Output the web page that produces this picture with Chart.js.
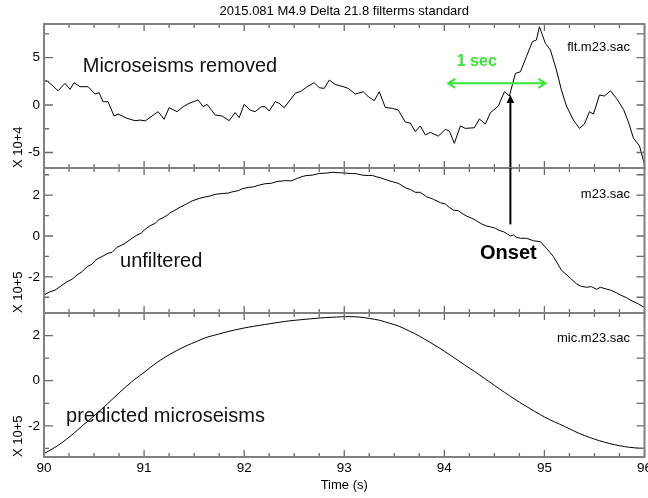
<!DOCTYPE html>
<html><head><meta charset="utf-8">
<script src="https://cdn.jsdelivr.net/npm/chart.js@4/dist/chart.umd.min.js"></script>
<style>
html,body{margin:0;padding:0;background:#fff;}
#wrap{position:relative;width:648px;height:498px;}
#wrap canvas{position:absolute;left:0;top:0;}
</style></head><body>
<div id="wrap">
<canvas id="c1" width="648" height="498"></canvas>
<canvas id="c2" width="648" height="498"></canvas>
<canvas id="c3" width="648" height="498"></canvas>
</div>
<script>
// ---------------- data ----------------
const TITLE = '2015.081 M4.9 Delta 21.8 filterms standard';
const X_LABELS = [90, 91, 92, 93, 94, 95, 96];

// flt.m23.sac (x 10^4)
const T_FLT = [90.00,90.02,90.08,90.14,90.21,90.26,90.30,90.36,90.44,90.51,90.55,90.59,90.64,90.70,90.74,90.83,90.91,90.96,91.01,91.14,
91.20,91.25,91.33,91.39,91.45,91.54,91.59,91.63,91.71,91.78,91.85,91.91,91.95,92.00,92.06,92.11,92.17,92.21,92.25,92.31,
92.35,92.40,92.46,92.51,92.57,92.63,92.70,92.75,92.80,92.85,92.91,92.99,93.04,93.11,93.19,93.24,93.30,93.35,93.41,93.48,
93.54,93.61,93.66,93.71,93.76,93.81,93.86,93.94,94.01,94.05,94.10,94.16,94.21,94.30,94.35,94.41,94.46,94.54,94.60,94.65,
94.71,94.76,94.82,94.88,94.92,94.95,95.01,95.06,95.12,95.17,95.22,95.29,95.35,95.40,95.45,95.49,95.55,95.60,95.66,95.72,
95.79,95.84,95.89,95.95,96.00];
const V_FLT = [2.30,2.60,2.10,1.50,2.28,1.65,2.35,1.93,1.93,1.16,1.30,0.35,0.35,-1.16,-0.95,-1.40,-1.65,-1.58,-1.68,-0.70,
-1.50,-0.28,-0.70,-0.18,0.18,0.53,-0.18,0.07,-1.05,-1.16,-1.65,-0.80,-1.33,0.07,-0.53,-0.70,-0.18,-0.18,-0.63,0.35,
0.18,-0.28,0.53,1.23,1.47,1.93,2.35,1.82,1.75,2.63,2.17,1.93,1.75,1.16,1.40,0.88,0.46,1.40,-0.25,-0.35,
-0.53,-1.80,-1.90,-2.80,-2.20,-3.15,-2.88,-3.27,-2.56,-2.74,-4.03,-2.21,-2.46,-2.39,-1.47,-2.00,-0.81,-0.10,1.40,0.95,
3.33,3.50,5.09,6.67,6.84,8.24,6.49,5.79,3.68,1.58,-0.10,-1.58,-2.46,-2.00,-0.70,-0.95,1.05,0.95,1.50,0.70,
-0.45,-1.80,-3.50,-4.30,-6.30];

// m23.sac (x 10^5)
const T_RAW = [90.00,90.06,90.11,90.16,90.23,90.28,90.33,90.38,90.43,90.48,90.51,90.55,90.59,90.64,90.68,90.73,90.80,90.86,90.92,90.97,
91.01,91.06,91.11,91.15,91.18,91.23,91.26,91.30,91.36,91.42,91.48,91.55,91.60,91.66,91.71,91.78,91.84,91.88,91.94,91.98,
92.04,92.09,92.14,92.21,92.27,92.33,92.41,92.47,92.53,92.58,92.62,92.68,92.75,92.82,92.88,92.94,92.99,93.06,93.12,93.18,
93.24,93.28,93.32,93.36,93.42,93.48,93.54,93.62,93.66,93.71,93.76,93.82,93.89,93.96,94.01,94.05,94.09,94.14,94.18,94.22,
94.27,94.32,94.37,94.42,94.46,94.51,94.55,94.59,94.63,94.66,94.69,94.72,94.76,94.82,94.89,94.96,95.02,95.09,95.17,95.26,
95.32,95.36,95.42,95.47,95.52,95.56,95.62,95.66,95.72,95.76,95.82,95.86,95.94,96.00];
const V_RAW = [-2.89,-2.73,-2.65,-2.48,-2.24,-2.12,-1.91,-1.75,-1.50,-1.38,-1.20,-1.08,-0.98,-0.84,-0.80,-0.55,-0.39,-0.18,0.02,0.14,
0.33,0.50,0.62,0.81,0.87,1.01,1.14,1.24,1.41,1.56,1.72,1.84,1.90,1.96,2.04,2.08,2.10,2.16,2.22,2.31,
2.38,2.40,2.48,2.56,2.58,2.67,2.71,2.70,2.82,2.91,2.96,2.98,3.06,3.08,3.12,3.10,3.09,3.06,3.05,2.98,
2.96,2.97,2.90,2.86,2.75,2.66,2.58,2.34,2.28,2.14,2.14,1.93,1.80,1.63,1.57,1.40,1.27,1.24,1.10,0.98,
0.88,0.75,0.60,0.49,0.45,0.38,0.27,0.21,0.10,0.00,0.05,-0.06,-0.11,-0.11,-0.23,-0.28,-0.60,-1.01,-1.67,-2.07,
-2.34,-2.45,-2.51,-2.48,-2.61,-2.51,-2.60,-2.65,-2.78,-2.89,-3.02,-3.14,-3.33,-3.50];

// mic.m23.sac (x 10^5)
const T_MIC = [90.00,90.10,90.19,90.29,90.39,90.50,90.60,90.70,90.80,90.90,91.01,91.11,91.22,91.32,91.42,91.53,91.63,91.74,91.84,91.94,
92.04,92.15,92.25,92.35,92.45,92.56,92.66,92.76,92.87,92.97,93.05,93.15,93.25,93.35,93.45,93.55,93.65,93.75,93.85,93.95,
94.05,94.15,94.25,94.35,94.45,94.55,94.65,94.75,94.85,94.95,95.05,95.15,95.25,95.35,95.45,95.55,95.65,95.75,95.85,95.95,96.00];
const V_MIC = [-3.23,-2.98,-2.71,-2.36,-1.97,-1.56,-1.16,-0.75,-0.34,0.04,0.40,0.75,1.07,1.32,1.54,1.75,1.93,2.06,2.18,2.28,
2.37,2.45,2.52,2.59,2.65,2.70,2.74,2.78,2.81,2.83,2.84,2.82,2.76,2.68,2.55,2.41,2.20,1.98,1.72,1.45,
1.16,0.86,0.56,0.26,-0.05,-0.36,-0.66,-0.95,-1.22,-1.48,-1.72,-1.92,-2.13,-2.34,-2.51,-2.66,-2.78,-2.88,-2.95,-2.99,-3.00];

const Y1_LABELS = [-5, 0, 5];
const Y1_MINOR = [-2.5, 2.5, 7.5];
const Y23_LABELS = [-2, 0, 2];
const Y23_MINOR = [-3, -1, 1, 3];

// ---------------- styling / layout ----------------
const FONT = "'Liberation Sans', Arial, Helvetica, sans-serif";
const W = 648, LEFT = 44, RIGHT = 644.5;
const GREEN = '#33e633';
const FRAME = '#808080';
const ONSET_T = 94.66;

function pts(t, v) {
  const n = Math.min(t.length, v.length);
  const out = [];
  for (let i = 0; i < n; i++) out.push({x: t[i], y: v[i]});
  return out;
}

const framePlugin = {
  id: 'frame',
  afterDraw(chart) {
    const p = chart.config.options.plugins.frame;
    const {ctx, chartArea: a} = chart;
    const xs = chart.scales.x, ys = chart.scales.y;
    const X = v => xs.getPixelForValue(v), Y = v => ys.getPixelForValue(v);
    ctx.save();
    // inner ticks
    ctx.strokeStyle = '#6a6a6a';
    ctx.lineWidth = 1.3;
    ctx.beginPath();
    for (let k = 0; k <= 24; k++) {
      const t = 90 + k * 0.25;
      const px = X(t);
      const len = (k % 4 === 0) ? 7 : 4;
      ctx.moveTo(px, a.top); ctx.lineTo(px, a.top + len);
      ctx.moveTo(px, a.bottom); ctx.lineTo(px, a.bottom - len);
    }
    const yt = [];
    p.major.forEach(v => yt.push([v, 9]));
    p.minor.forEach(v => yt.push([v, 5]));
    yt.forEach(([v, len]) => {
      if (v < ys.min || v > ys.max) return;
      const py = Y(v);
      ctx.moveTo(a.left, py); ctx.lineTo(a.left + len, py);
      ctx.moveTo(a.right, py); ctx.lineTo(a.right - 8, py);
    });
    ctx.stroke();
    // frame
    ctx.strokeStyle = FRAME;
    ctx.lineWidth = 2;
    ctx.strokeRect(a.left, a.top, a.right - a.left, a.bottom - a.top);

    // texts
    (p.texts || []).forEach(tx => {
      ctx.font = tx.font + ' ' + FONT;
      ctx.fillStyle = tx.color || '#000';
      ctx.textAlign = tx.align;
      ctx.textBaseline = 'alphabetic';
      ctx.fillText(tx.text, X(tx.x), Y(tx.y));
    });

    // green 1-second arrow
    if (p.span) {
      const x0 = X(p.span.x0), x1 = X(p.span.x1), y = Y(p.span.y);
      ctx.strokeStyle = GREEN; ctx.lineWidth = 2;
      ctx.beginPath();
      ctx.moveTo(x0, y); ctx.lineTo(x1, y);
      ctx.moveTo(x0 + 7, y - 4.5); ctx.lineTo(x0, y); ctx.lineTo(x0 + 7, y + 4.5);
      ctx.moveTo(x1 - 7, y - 4.5); ctx.lineTo(x1, y); ctx.lineTo(x1 - 7, y + 4.5);
      ctx.stroke();
    }
    // onset arrow
    if (p.onset) {
      const px = X(p.onset.x);
      ctx.strokeStyle = '#000'; ctx.fillStyle = '#000'; ctx.lineWidth = 2;
      ctx.beginPath();
      if (p.onset.tip !== undefined) {
        const ty = Y(p.onset.tip);
        ctx.moveTo(px, a.bottom); ctx.lineTo(px, ty + 6);
        ctx.stroke();
        ctx.beginPath();
        ctx.moveTo(px, ty); ctx.lineTo(px - 3.8, ty + 8); ctx.lineTo(px + 3.8, ty + 8); ctx.closePath();
        ctx.fill();
      } else {
        ctx.moveTo(px, a.top); ctx.lineTo(px, Y(p.onset.from));
        ctx.stroke();
      }
    }
    ctx.restore();
  }
};

function panel(id, p) {
  return new Chart(document.getElementById(id), {
    type: 'line',
    data: { datasets: [{
      data: pts(p.t, p.v), borderColor: '#000', borderWidth: 1, pointRadius: 0,
      tension: p.tension || 0, fill: false
    }]},
    options: {
      responsive: false, animation: false, events: [],
      layout: { padding: { top: p.padTop, bottom: p.padBottom, left: 0, right: W - RIGHT } },
      plugins: {
        legend: { display: false }, tooltip: { enabled: false },
        title: p.title ? {
          display: true, text: p.title, fullSize: false, color: '#000',
          font: { family: FONT, size: 13, weight: 'normal' }, padding: { top: 4, bottom: 4.4 }
        } : { display: false },
        frame: p
      },
      scales: {
        x: {
          type: 'linear', min: 90, max: 96, display: !!p.showX,
          grid: { display: false, drawTicks: false }, border: { display: false },
          afterBuildTicks: s => { s.ticks = X_LABELS.map(v => ({value: v})); },
          afterFit: s => { s.height = p.showX ? 41 : 0; s.paddingLeft = 0; s.paddingRight = 0; },
          ticks: { color: '#000', font: { family: FONT, size: 13.5 }, padding: 3, maxRotation: 0, autoSkip: false, callback: v => String(v) },
          title: { display: true, text: 'Time (s)', color: '#000', font: { family: FONT, size: 13 }, padding: { top: 0, bottom: 5 } }
        },
        y: {
          type: 'linear', min: p.ymin, max: p.ymax, position: 'left',
          grid: { display: false, drawTicks: false }, border: { display: false },
          afterBuildTicks: s => { s.ticks = p.major.map(v => ({value: v})); },
          afterFit: s => { s.width = LEFT; s.paddingTop = 0; s.paddingBottom = 0; },
          ticks: { color: '#000', font: { family: FONT, size: 13.5 }, padding: 4, autoSkip: false, callback: v => String(v) },
          title: { display: true, text: p.unit, align: 'start', color: '#000', font: { family: FONT, size: 13 }, padding: { top: 10.5, bottom: 0 } }
        }
      }
    },
    plugins: [framePlugin]
  });
}

panel('c1', {
  t: T_FLT, v: V_FLT, title: TITLE, unit: 'X 10+4',
  padTop: 0, padBottom: 498 - 168, ymin: -6.63, ymax: 8.53,
  major: Y1_LABELS, minor: Y1_MINOR,
  texts: [
    { text: 'Microseisms removed', x: 90.387, y: 3.47, align: 'left', font: '20px', color: '#111' },
    { text: 'flt.m23.sac', x: 95.855, y: 5.68, align: 'right', font: '13px' },
    { text: '1 sec', x: 94.124, y: 4.14, align: 'left', font: 'bold 16px', color: GREEN }
  ],
  span: { x0: 94.04, x1: 95.01, y: 2.28 },
  onset: { x: ONSET_T, tip: 1.05 }
});
panel('c2', {
  t: T_RAW, v: V_RAW, unit: 'X 10+5',
  padTop: 168, padBottom: 498 - 313, ymin: -3.77, ymax: 3.33,
  major: Y23_LABELS, minor: Y23_MINOR,
  texts: [
    { text: 'm23.sac', x: 95.855, y: 1.86, align: 'right', font: '13px' },
    { text: 'unfiltered', x: 90.76, y: -1.52, align: 'left', font: '20px', color: '#111' },
    { text: 'Onset', x: 94.357, y: -1.14, align: 'left', font: 'bold 20px' }
  ],
  onset: { x: ONSET_T, from: 0.57 }
});
panel('c3', {
  t: T_MIC, v: V_MIC, unit: 'X 10+5', showX: true, tension: 0.3,
  padTop: 313, padBottom: 0, ymin: -3.38, ymax: 3.0,
  major: Y23_LABELS, minor: Y23_MINOR,
  texts: [
    { text: 'mic.m23.sac', x: 95.855, y: 1.71, align: 'right', font: '13px' },
    { text: 'predicted microseisms', x: 90.22, y: -1.83, align: 'left', font: '20px', color: '#111' }
  ]
});
</script>
</body></html>
